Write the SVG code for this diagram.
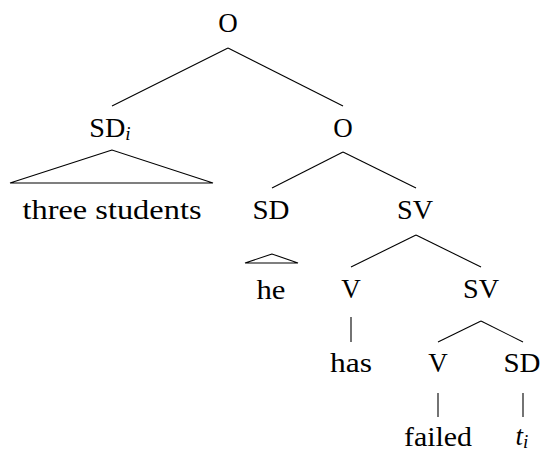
<svg xmlns="http://www.w3.org/2000/svg" width="541" height="451" viewBox="0 0 541 451">
<style>
line,polygon{stroke:#000;stroke-width:1.1;fill:none}
</style>
<rect width="541" height="451" fill="#fff"/>
<g id="connectors">
<line x1="228" y1="48" x2="112" y2="106"/>
<line x1="228" y1="48" x2="343" y2="106"/>
<polygon points="112,150 10,183 213,183"/>
<line x1="343" y1="152" x2="272" y2="188"/>
<line x1="343" y1="152" x2="416" y2="188"/>
<polygon points="272,254 245,263 298,263"/>
<line x1="416" y1="235" x2="351" y2="267"/>
<line x1="416" y1="235" x2="481" y2="267"/>
<line x1="351" y1="317" x2="351" y2="342"/>
<line x1="481" y1="321" x2="438" y2="342"/>
<line x1="481" y1="321" x2="523" y2="342"/>
<line x1="438" y1="393" x2="438" y2="417"/>
<line x1="523" y1="393" x2="523" y2="417"/>
</g>
<g id="n-O"><text font-family="Liberation Serif" font-size="27" text-anchor="middle" x="228" y="32">O</text></g>
<g id="n-SDi"><text font-family="Liberation Serif" font-size="27" text-anchor="middle" x="110" y="137"><tspan textLength="36" lengthAdjust="spacingAndGlyphs">SD</tspan><tspan font-size="19" font-style="italic" dy="3">i</tspan></text></g>
<g id="n-three"><text font-family="Liberation Serif" font-size="27" text-anchor="middle" x="112" y="219" textLength="179" lengthAdjust="spacingAndGlyphs">three students</text></g>
<g id="n-O2"><text font-family="Liberation Serif" font-size="27" text-anchor="middle" x="343" y="137">O</text></g>
<g id="n-SD"><text font-family="Liberation Serif" font-size="27" text-anchor="middle" x="271" y="219" textLength="37" lengthAdjust="spacingAndGlyphs">SD</text></g>
<g id="n-he"><text font-family="Liberation Serif" font-size="27" text-anchor="middle" x="271" y="299" textLength="29" lengthAdjust="spacingAndGlyphs">he</text></g>
<g id="n-SV"><text font-family="Liberation Serif" font-size="27" text-anchor="middle" x="415" y="219" textLength="36" lengthAdjust="spacingAndGlyphs">SV</text></g>
<g id="n-V"><text font-family="Liberation Serif" font-size="27" text-anchor="middle" x="351" y="298">V</text></g>
<g id="n-has"><text font-family="Liberation Serif" font-size="27" text-anchor="middle" x="351" y="372" textLength="42" lengthAdjust="spacingAndGlyphs">has</text></g>
<g id="n-SV2"><text font-family="Liberation Serif" font-size="27" text-anchor="middle" x="481" y="298" textLength="36" lengthAdjust="spacingAndGlyphs">SV</text></g>
<g id="n-V2"><text font-family="Liberation Serif" font-size="27" text-anchor="middle" x="438" y="372">V</text></g>
<g id="n-failed"><text font-family="Liberation Serif" font-size="27" text-anchor="middle" x="438" y="446" textLength="68" lengthAdjust="spacingAndGlyphs">failed</text></g>
<g id="n-SD2"><text font-family="Liberation Serif" font-size="27" text-anchor="middle" x="522" y="372" textLength="37" lengthAdjust="spacingAndGlyphs">SD</text></g>
<g id="n-ti"><text font-family="Liberation Serif" font-size="27" text-anchor="middle" x="522" y="445"><tspan font-style="italic">t</tspan><tspan font-size="19" font-style="italic" dy="3">i</tspan></text></g>
</svg>
